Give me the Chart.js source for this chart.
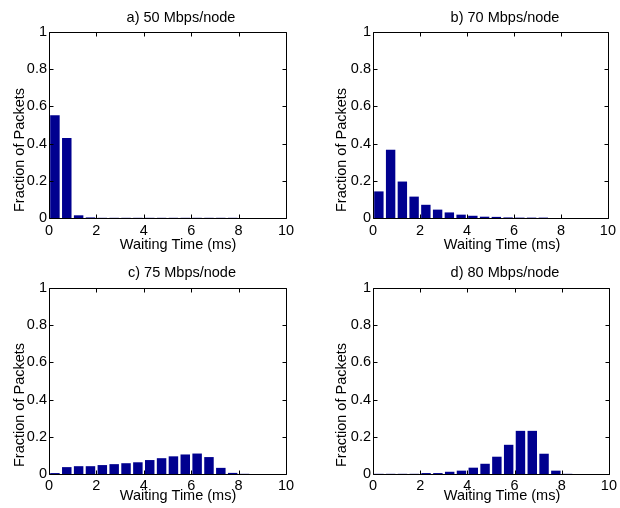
<!DOCTYPE html>
<html>
<head>
<meta charset="utf-8">
<script src="https://cdn.jsdelivr.net/npm/chart.js@4"></script>
<style>
  html, body { margin: 0; padding: 0; background: #fff; }
  #wrap { position: relative; width: 620px; height: 508px; overflow: hidden; }
  canvas { position: absolute; }
</style>
</head>
<body>
<div id="wrap">
  <canvas id="cA" width="310" height="254" style="left:0;top:0"></canvas>
  <canvas id="cB" width="310" height="254" style="left:310px;top:0"></canvas>
  <canvas id="cC" width="310" height="254" style="left:0;top:254px"></canvas>
  <canvas id="cD" width="310" height="254" style="left:310px;top:254px"></canvas>
</div>
<script>
// ---- data ----
const binCenters = [0.25, 0.75, 1.25, 1.75, 2.25, 2.75, 3.25, 3.75, 4.25, 4.75,
                    5.25, 5.75, 6.25, 6.75, 7.25, 7.75, 8.25, 8.75, 9.25, 9.75];
const panelTitles = ["a) 50 Mbps/node", "b) 70 Mbps/node", "c) 75 Mbps/node", "d) 80 Mbps/node"];
const xAxisLabel = "Waiting Time (ms)";
const yAxisLabel = "Fraction of Packets";
const xTickValues = [0, 2, 4, 6, 8, 10];
const yTickValues = [0, 0.2, 0.4, 0.6, 0.8, 1];

const frac50 = [0.552, 0.430, 0.0145, 0.003, 0.001, 0.001, 0.001, 0.001, 0.001, 0.001,
                0.001, 0.001, 0.001, 0.001, 0.001, 0.001, 0, 0, 0, 0];
const frac70 = [0.143, 0.367, 0.196, 0.115, 0.071, 0.045, 0.030, 0.018, 0.012, 0.007,
                0.006, 0.003, 0.002, 0.002, 0.002, 0, 0, 0, 0, 0];
const frac75 = [0.005, 0.037, 0.042, 0.042, 0.048, 0.053, 0.058, 0.063, 0.075, 0.085,
                0.095, 0.105, 0.110, 0.091, 0.033, 0.006, 0.001, 0, 0, 0];
const frac80 = [0.001, 0.001, 0.001, 0.001, 0.005, 0.005, 0.012, 0.018, 0.034, 0.055,
                0.093, 0.157, 0.232, 0.232, 0.109, 0.018, 0.001, 0, 0, 0];

const FONT = '"Liberation Sans", Arial, Helvetica, sans-serif';
const FSIZE = 14.5;
const BAR_COLOR = '#00008f';

const framePlugin = {
  id: 'frame',
  afterDatasetsDraw(chart, args, o) {
    const { ctx, chartArea } = chart;
    const x = chart.scales.x, y = chart.scales.y;
    const L = Math.round(chartArea.left), R = Math.round(chartArea.right);
    const T = Math.round(chartArea.top), B = Math.round(chartArea.bottom);
    ctx.save();
    ctx.strokeStyle = '#000';
    ctx.lineWidth = 1;
    ctx.beginPath();
    ctx.rect(L + 0.5, T + 0.5, R - L, B - T);
    const tl = 4;
    xTickValues.forEach(v => {
      const px = Math.round(x.getPixelForValue(v)) + 0.5;
      ctx.moveTo(px, B + 0.5); ctx.lineTo(px, B + 0.5 - tl);
      ctx.moveTo(px, T + 0.5); ctx.lineTo(px, T + 0.5 + tl);
    });
    yTickValues.forEach(v => {
      const py = Math.round(y.getPixelForValue(v)) + 0.5;
      ctx.moveTo(L + 0.5, py); ctx.lineTo(L + 0.5 + tl, py);
      ctx.moveTo(R + 0.5, py); ctx.lineTo(R + 0.5 - tl, py);
    });
    ctx.stroke();
    ctx.restore();
  },
  afterDraw(chart, args, o) {
    const ctx = chart.ctx;
    ctx.save();
    ctx.fillStyle = '#000';
    ctx.font = FSIZE + 'px ' + FONT;
    ctx.textAlign = 'center';
    ctx.textBaseline = 'alphabetic';
    ctx.fillText(o.title, o.titleX, o.titleY);
    ctx.fillText(xAxisLabel, o.xlX, o.xlY);
    ctx.translate(o.ylX, o.ylY);
    ctx.rotate(-Math.PI / 2);
    ctx.fillText(yAxisLabel, 0, 0);
    ctx.restore();
  }
};

function makePanel(id, values, title, g) {
  const pts = binCenters.map((c, i) => ({ x: c, y: values[i] }));
  return new Chart(document.getElementById(id), {
    type: 'bar',
    data: {
      datasets: [{
        data: pts,
        backgroundColor: BAR_COLOR,
        borderWidth: 0,
        barPercentage: 0.8,
        categoryPercentage: 1.0
      }]
    },
    options: {
      responsive: false,
      animation: false,
      devicePixelRatio: 1,
      layout: { padding: { top: g.top, left: 0, right: g.right, bottom: 0 } },
      plugins: {
        legend: { display: false },
        tooltip: { enabled: false },
        title: { display: false },
        frame: { title: title, titleX: g.titleX, titleY: g.titleY,
                 xlX: g.xlX, xlY: g.xlY, ylX: g.ylX, ylY: g.ylY }
      },
      scales: {
        x: {
          type: 'linear', min: 0, max: 10, offset: false,
          grid: { display: false, drawTicks: false },
          border: { display: false },
          ticks: { stepSize: 2, padding: g.xpad, color: '#000', maxRotation: 0,
                   font: { family: FONT, size: FSIZE } },
          afterFit: s => { s.height = g.xh; }
        },
        y: {
          min: 0, max: 1,
          grid: { display: false, drawTicks: false },
          border: { display: false },
          ticks: { stepSize: 0.2, padding: 2, color: '#000',
                   font: { family: FONT, size: FSIZE },
                   callback: v => String(Number(v.toFixed(1))) },
          afterFit: s => { s.width = g.yw; }
        }
      }
    },
    plugins: [framePlugin]
  });
}

makePanel('cA', frac50, panelTitles[0],
  { top: 32, right: 24, yw: 49, xh: 36, xpad: 4, titleX: 181, titleY: 22, xlX: 178, xlY: 249, ylX: 24, ylY: 150 });
makePanel('cB', frac70, panelTitles[1],
  { top: 32, right: 10, yw: 63, xh: 36, xpad: 4, titleX: 195, titleY: 22, xlX: 192, xlY: 249, ylX: 36, ylY: 150 });
makePanel('cC', frac75, panelTitles[2],
  { top: 34, right: 24, yw: 49, xh: 34, xpad: 3, titleX: 182, titleY: 23, xlX: 178, xlY: 246, ylX: 24, ylY: 151 });
makePanel('cD', frac80, panelTitles[3],
  { top: 34, right: 10, yw: 63, xh: 34, xpad: 3, titleX: 195, titleY: 23, xlX: 192, xlY: 246, ylX: 36, ylY: 151 });
</script>
</body>
</html>
